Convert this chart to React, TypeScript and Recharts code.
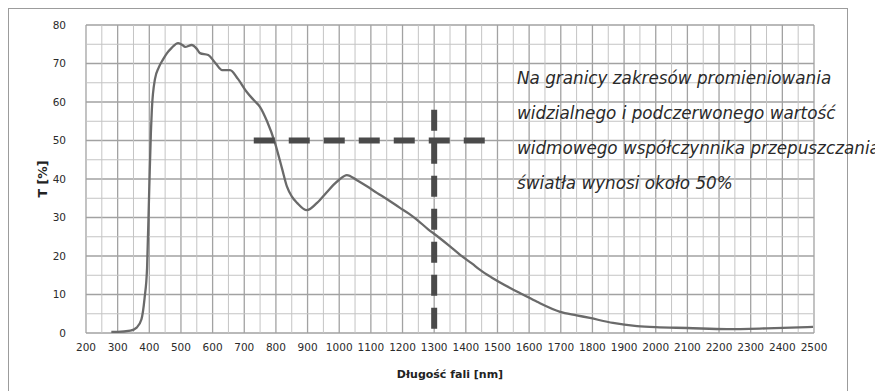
import { LineChart, Line, XAxis, YAxis, CartesianGrid, ReferenceLine } from 'recharts';

// wavelength [nm] and spectral transmittance T [%]
const wavelengths = [
  280, 300, 340, 360, 375, 385, 393, 400, 405, 408, 418, 430, 443, 456, 470, 491, 505, 513, 534, 550,
  560, 586, 610, 630, 655, 680, 708, 730, 750, 772, 797, 820, 835, 850, 867, 898, 930, 960, 981,
  1000, 1024, 1056, 1090, 1119, 1150, 1192, 1220, 1246, 1280, 1309, 1350, 1382, 1420, 1445, 1480, 1540,
  1580, 1625, 1698, 1750, 1792, 1865, 1941, 2000, 2099, 2225, 2350, 2497,
];
const transmittance = [
  0.3, 0.3, 0.6, 1.4, 3.5, 9, 17, 38, 52, 58, 66, 69, 71, 72.7, 74, 75.3, 74.8, 74.3, 74.8, 73.8,
  72.7, 72.2, 70, 68.3, 68.3, 66, 62.6, 60.5, 58.7, 55, 49.4, 42.5, 38, 35.5, 33.8, 31.9, 33.8, 36.5, 38.4,
  39.8, 41, 39.7, 38, 36.4, 34.8, 32.5, 31, 29.4, 27, 25.2, 22.5, 20.3, 18, 16.4, 14.5, 11.7,
  10, 8.1, 5.5, 4.6, 3.9, 2.6, 1.8, 1.5, 1.3, 1.0, 1.2, 1.6,
];

const xTicks = [
  200, 300, 400, 500, 600, 700, 800, 900, 1000, 1100, 1200, 1300, 1400, 1500, 1600, 1700, 1800, 1900,
  2000, 2100, 2200, 2300, 2400, 2500,
];
const yTicks = [0, 10, 20, 30, 40, 50, 60, 70, 80];
const xMinor = [
  250, 350, 450, 550, 650, 750, 850, 950, 1050, 1150, 1250, 1350, 1450, 1550, 1650, 1750, 1850, 1950,
  2050, 2150, 2250, 2350, 2450,
];
const yMinor = [5, 15, 25, 35, 45, 55, 65, 75];

// dashed markers: 50% level and the 1300 nm boundary
const levelLine = { from: 730, to: 1480, value: 50 };
const boundaryLine = { at: 1300, top: 58 };

const noteLines = [
  'Na granicy zakresów promieniowania',
  'widzialnego i podczerwonego wartość',
  'widmowego współczynnika przepuszczania',
  'światła wynosi około 50%',
];

const data = wavelengths.map((nm, i) => ({ nm, t: transmittance[i] }));

const tickStyle = { fontSize: 10.5, fill: '#2b2b2b', fontFamily: 'DejaVu Sans' };

export default function App() {
  return (
    <div style={{ position: 'relative', width: 867, height: 383 }}>
      {/* outer frame */}
      <div
        style={{
          position: 'absolute',
          left: 0,
          top: 0,
          width: 838,
          height: 382,
          border: '1px solid #9c9c9c',
        }}
      />
      <div style={{ position: 'absolute', left: 0, top: 0 }}>
        <LineChart
          width={867}
          height={383}
          data={data}
          margin={{ top: 17, right: 61, left: 28, bottom: 13 }}
        >
          <CartesianGrid stroke="#a2a2a2" strokeWidth={1.3} />
          {xMinor.map((v) => (
            <ReferenceLine key={`x${v}`} x={v} stroke="#c4c4c4" />
          ))}
          {yMinor.map((v) => (
            <ReferenceLine key={`y${v}`} y={v} stroke="#c4c4c4" />
          ))}
          <XAxis
            dataKey="nm"
            type="number"
            domain={[200, 2500]}
            ticks={xTicks}
            interval={0}
            axisLine={false}
            tickLine={false}
            tickSize={0}
            tickMargin={11}
            height={45}
            tick={tickStyle}
            label={{
              value: 'Długość fali [nm]',
              position: 'insideBottom',
              offset: 0,
              style: { fontSize: 11, fill: '#222', fontFamily: 'DejaVu Sans', fontWeight: 'bold' },
            }}
          />
          <YAxis
            type="number"
            domain={[0, 80]}
            ticks={yTicks}
            axisLine={false}
            tickLine={false}
            tickSize={0}
            tickMargin={20}
            width={50}
            tick={tickStyle}
            label={{
              value: 'T [%]',
              angle: -90,
              position: 'insideLeft',
              offset: 7,
              style: { fontSize: 12.5, fill: '#222', fontFamily: 'DejaVu Sans', fontWeight: 'bold', textAnchor: 'middle' },
            }}
          />
          <Line
            type="monotone"
            dataKey="t"
            stroke="#6a6a6a"
            strokeWidth={2.3}
            dot={false}
            isAnimationActive={false}
          />
          <ReferenceLine
            segment={[
              { x: levelLine.from, y: levelLine.value },
              { x: levelLine.to, y: levelLine.value },
            ]}
            stroke="#4a4a4a"
            strokeWidth={6}
            strokeDasharray="21 14"
          />
          <ReferenceLine
            segment={[
              { x: boundaryLine.at, y: boundaryLine.top },
              { x: boundaryLine.at, y: 0 },
            ]}
            stroke="#4a4a4a"
            strokeWidth={6}
            strokeDasharray="21 12"
          />
        </LineChart>
      </div>
      {/* annotation */}
      {noteLines.map((line, i) => (
        <div
          key={i}
          style={{
            position: 'absolute',
            left: 509,
            top: 60 + i * 35,
            whiteSpace: 'nowrap',
            fontFamily: 'DejaVu Sans',
            fontStyle: 'italic',
            fontSize: 16.8,
            color: '#2a2a2a',
          }}
        >
          {line}
        </div>
      ))}
    </div>
  );
}
